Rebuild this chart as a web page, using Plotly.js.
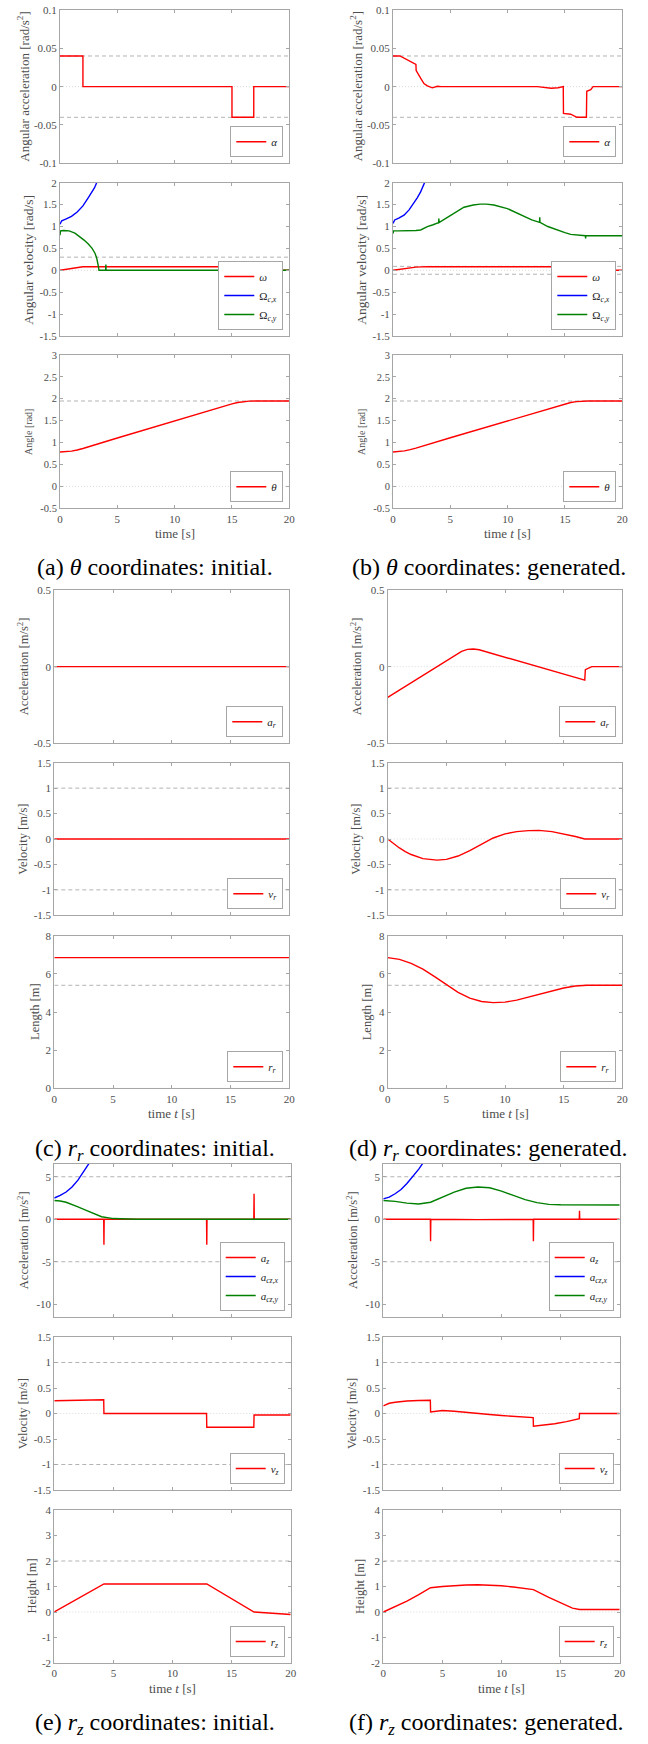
<!DOCTYPE html>
<html><head><meta charset="utf-8">
<script src="https://cdn.plot.ly/plotly-3.0.1.min.js"></script>
<style>html,body{margin:0;padding:0;background:#fff}#chart{width:648px;height:1744px}</style>
</head><body><div id="chart"></div>
<script>
// ---------------- DATA ----------------
const tSpan = [0, 20];
const xTickVals = [0, 5, 10, 15, 20];
const xTickText = ['0', '5', '10', '15', '20'];

// (a)/(b) angular acceleration
const tAlphaInit = [0, 2, 2, 15, 15, 16.9, 16.9, 20];
const alphaInit  = [0.04, 0.04, 0, 0, -0.04, -0.04, 0, 0];
const tAlphaGen  = [0, 0.6, 2.0, 2.02, 2.41, 2.7, 3.0, 3.43, 3.87, 4.2, 12.6, 13.2, 13.8, 14.4, 14.85, 14.87, 15.5, 16.05, 16.87, 16.9, 17.25, 17.45, 20];
const alphaGen   = [0.04, 0.04, 0.029, 0.021, 0.011, 0.004, 0.001, -0.0015, 0.0005, 0, 0, -0.001, -0.002, -0.0015, 0, -0.035, -0.036, -0.04, -0.04, -0.006, -0.004, 0, 0];
const boundsAngAcc = [0.04, -0.04];
const yTickAngAcc = [-0.1, -0.05, 0, 0.05, 0.1];
const yTickAngAccText = ['-0.1', '-0.05', '0', '0.05', '0.1'];

// angular velocity
const tOmegaInit = [0, 2, 15, 16.9, 20];
const omegaInit  = [0, 0.08, 0.08, 0, 0];
const tOcxInit = [0, 0.08, 0.15, 0.5, 1.0, 1.5, 2.0, 2.5, 3.0, 3.2, 3.5];
const ocxInit  = [1.05, 1.1, 1.13, 1.17, 1.23, 1.33, 1.47, 1.67, 1.88, 2.0, 2.2];
const tOcyInit = [0, 0.05, 0.3, 0.8, 1.3, 1.74, 2.1, 2.47, 2.8, 3.05, 3.2, 3.34, 3.4, 3.98, 4.0, 4.02, 20];
const ocyInit  = [0.8, 0.9, 0.91, 0.9, 0.85, 0.77, 0.69, 0.6, 0.5, 0.39, 0.28, 0.1, 0, 0, 0.13, 0, 0];
const tOmegaGen = [0, 0.6, 2, 2.5, 3, 15, 16.9, 20];
const omegaGen  = [0, 0.024, 0.073, 0.078, 0.08, 0.08, 0.003, 0];
const tOcxGen = [0, 0.08, 0.15, 0.5, 0.96, 1.4, 1.83, 2.1, 2.41, 2.76, 3.0];
const ocxGen  = [1.07, 1.12, 1.15, 1.19, 1.26, 1.38, 1.53, 1.65, 1.79, 2.0, 2.15];
const tOcyGen = [0, 0.05, 0.5, 1.0, 1.5, 2.0, 2.41, 3.0, 3.5, 3.98, 4.0, 4.02, 4.5, 5.03, 5.6, 6.19, 7.0, 7.6, 8.14, 8.8, 9.97, 10.7, 11.4, 12.1, 12.78, 12.8, 12.82, 13.5, 14.3, 15.0, 15.5, 16.2, 16.78, 16.8, 16.82, 17.5, 20];
const ocyGen  = [0.84, 0.9, 0.9, 0.9, 0.905, 0.91, 0.92, 0.996, 1.04, 1.09, 1.18, 1.09, 1.17, 1.26, 1.35, 1.44, 1.49, 1.51, 1.51, 1.49, 1.41, 1.32, 1.22, 1.15, 1.094, 1.21, 1.094, 1.0, 0.92, 0.86, 0.82, 0.8, 0.79, 0.73, 0.79, 0.79, 0.79];
const boundsAngVelInit = [0.3];
const boundsAngVelGen = [0.09, -0.09];
const yTickAngVel = [-1.5, -1, -0.5, 0, 0.5, 1, 1.5, 2];
const yTickAngVelText = ['-1.5', '-1', '-0.5', '0', '0.5', '1', '1.5', '2'];

// angle
const tTheta = [0, 0.5, 1, 1.5, 2, 5, 10, 15, 15.5, 16, 16.5, 17, 20];
const thetaInit = [0.785, 0.79, 0.805, 0.83, 0.865, 1.105, 1.5, 1.885, 1.915, 1.935, 1.947, 1.95, 1.95];
const thetaGen  = [0.785, 0.79, 0.81, 0.84, 0.875, 1.11, 1.5, 1.885, 1.915, 1.935, 1.947, 1.95, 1.95];
const boundsAngle = [1.95];
const yTickAngle = [-0.5, 0, 0.5, 1, 1.5, 2, 2.5, 3];
const yTickAngleText = ['-0.5', '0', '0.5', '1', '1.5', '2', '2.5', '3'];

// (c)/(d) r_r
const arInit = [0, 0];
const tArGen = [0, 4.2, 6.3, 6.8, 7.3, 7.8, 10, 12.7, 16.8, 16.85, 17.1, 17.4, 20];
const arGen  = [-0.2, 0, 0.1, 0.113, 0.115, 0.11, 0.062, 0, -0.088, -0.02, -0.012, 0, 0];
const yTickAr = [-0.5, 0, 0.5];
const yTickArText = ['-0.5', '0', '0.5'];

const vrInit = [0, 0];
const tVrGen = [0, 0.5, 1, 1.5, 2, 3, 4.2, 5, 6, 7, 8, 9, 10, 11, 12, 12.9, 14, 15, 16, 16.8, 20];
const vrGen  = [0, -0.094, -0.176, -0.247, -0.305, -0.386, -0.415, -0.4, -0.335, -0.23, -0.1, 0.02, 0.1, 0.145, 0.165, 0.17, 0.145, 0.105, 0.05, 0, 0];
const boundsVel = [1, -1];
const yTickVel = [-1.5, -1, -0.5, 0, 0.5, 1, 1.5];
const yTickVelText = ['-1.5', '-1', '-0.5', '0', '0.5', '1', '1.5'];

const rrInit = [6.85, 6.85];
const tRrGen = [0, 1, 2, 3, 4, 5, 6, 7, 8, 9, 10, 11, 12, 13, 14, 15, 16, 17, 20];
const rrGen  = [6.85, 6.76, 6.55, 6.25, 5.85, 5.42, 5.03, 4.73, 4.55, 4.49, 4.52, 4.62, 4.78, 4.95, 5.12, 5.26, 5.36, 5.4, 5.4];
const boundsLen = [5.4];
const yTickLen = [0, 2, 4, 6, 8];
const yTickLenText = ['0', '2', '4', '6', '8'];

// (e)/(f) r_z
const tAzInit = [0, 4.18, 4.2, 4.22, 12.88, 12.9, 12.92, 16.88, 16.9, 16.92, 20];
const azInit  = [0, 0, -3, 0, 0, -3, 0, 0, 3, 0, 0];
const tAcxInit = [0, 0.5, 1, 1.5, 2, 2.5, 3, 3.5];
const acxInit  = [2.5, 2.8, 3.2, 3.8, 4.6, 5.6, 6.7, 8.0];
const tAcyInit = [0, 0.5, 1, 1.5, 2, 2.5, 3, 3.5, 4, 5, 6, 7, 20];
const acyInit  = [2.2, 2.15, 2.0, 1.75, 1.45, 1.15, 0.85, 0.55, 0.3, 0.08, 0.01, 0, 0];
const tAzGen = [0, 3.98, 4.0, 4.02, 8, 12.68, 12.7, 12.72, 16.58, 16.6, 16.62, 20];
const azGen  = [0, 0, -2.6, 0, -0.05, 0, -2.6, 0, 0, 1.0, 0, 0];
const tAcxGen = [0, 0.5, 1, 1.5, 2, 2.5, 3, 3.5, 4];
const acxGen  = [2.4, 2.6, 3.0, 3.5, 4.2, 5.0, 5.9, 6.9, 8.0];
const tAcyGen = [0, 1, 2, 3, 4, 5, 6, 7, 8, 9, 10, 11, 12, 13, 14, 15, 16, 20];
const acyGen  = [2.2, 2.1, 1.9, 1.8, 2.0, 2.6, 3.2, 3.65, 3.8, 3.7, 3.3, 2.8, 2.3, 1.95, 1.75, 1.7, 1.68, 1.68];
const boundsAz = [5, -5];
const yTickAz = [-10, -5, 0, 5];
const yTickAzText = ['-10', '-5', '0', '5'];

const tVzInit = [0, 4.18, 4.2, 12.88, 12.9, 16.88, 16.9, 20];
const vzInit  = [0.25, 0.27, 0, 0, -0.27, -0.27, -0.03, -0.03];
const tVzGen = [0, 0.5, 1, 2, 3, 3.98, 4.0, 4.5, 5, 6, 7, 8, 9, 10, 11, 12, 12.68, 12.7, 13.5, 14.5, 15.5, 16.3, 16.58, 16.6, 20];
const vzGen  = [0.15, 0.2, 0.22, 0.245, 0.255, 0.26, 0.03, 0.05, 0.06, 0.045, 0.02, 0, -0.02, -0.04, -0.06, -0.075, -0.08, -0.25, -0.23, -0.2, -0.16, -0.12, -0.1, 0, 0];

const tRzInit = [0, 4.2, 12.9, 16.9, 20];
const rzInit  = [0, 1.1, 1.1, 0, -0.1];
const tRzGen = [0, 1, 2, 3, 4, 5, 6, 7, 8, 9, 10, 11, 12, 12.7, 14, 15, 16, 16.6, 20];
const rzGen  = [0, 0.2, 0.43, 0.68, 0.95, 1.0, 1.04, 1.06, 1.07, 1.06, 1.03, 0.98, 0.92, 0.88, 0.57, 0.35, 0.15, 0.1, 0.1];
const boundsHeight = [2];
const yTickH = [-2, -1, 0, 1, 2, 3, 4];
const yTickHText = ['-2', '-1', '0', '1', '2', '3', '4'];

// ---------------- STYLE / LAYOUT ----------------
const W = 648, H = 1744;
const FONT = '"Liberation Serif", "Times New Roman", serif';
const RED = '#ff0000', BLUE = '#0000ff', GREEN = '#008000';
const TXT = '#4d4d4d', BOX = '#a6a6a6';

const panels = [
  {g:[60,289.3,10,163.3], yr:[-0.1,0.1], tv:yTickAngAcc, tt:yTickAngAccText, yl:'Angular acceleration [rad/s<sup>2</sup>]', ylx:23, ylf:13, tf:11, b:boundsAngAcc,
   s:[{x:tAlphaInit,y:alphaInit,c:RED,n:'<i>α</i>'}]},
  {g:[393,622.3,10,163.3], yr:[-0.1,0.1], tv:yTickAngAcc, tt:yTickAngAccText, yl:'Angular acceleration [rad/s<sup>2</sup>]', ylx:355.7, ylf:13, tf:11, b:boundsAngAcc,
   s:[{x:tAlphaGen,y:alphaGen,c:RED,n:'<i>α</i>'}]},
  {g:[60,289.3,182.7,336], yr:[-1.5,2], tv:yTickAngVel, tt:yTickAngVelText, yl:'Angular velocity [rad/s]', ylx:28.3, ylf:13.5, tf:11, b:boundsAngVelInit,
   s:[{x:tOmegaInit,y:omegaInit,c:RED,n:'<i>ω</i>'},{x:tOcxInit,y:ocxInit,c:BLUE,n:'Ω<sub><i>c,x</i></sub>'},{x:tOcyInit,y:ocyInit,c:GREEN,n:'Ω<sub><i>c,y</i></sub>'}]},
  {g:[393,622.3,182.7,336], yr:[-1.5,2], tv:yTickAngVel, tt:yTickAngVelText, yl:'Angular velocity [rad/s]', ylx:361.3, ylf:13.5, tf:11, b:boundsAngVelGen,
   s:[{x:tOmegaGen,y:omegaGen,c:RED,n:'<i>ω</i>'},{x:tOcxGen,y:ocxGen,c:BLUE,n:'Ω<sub><i>c,x</i></sub>'},{x:tOcyGen,y:ocyGen,c:GREEN,n:'Ω<sub><i>c,y</i></sub>'}]},
  {g:[60,289.3,355,508.3], yr:[-0.5,3], tv:yTickAngle, tt:yTickAngleText, yl:'Angle [rad]', ylx:28.3, ylf:10, tf:10.5, b:boundsAngle, xl:'time [s]', xly:533,
   s:[{x:tTheta,y:thetaInit,c:RED,n:'<i>θ</i>'}]},
  {g:[393,622.3,355,508.3], yr:[-0.5,3], tv:yTickAngle, tt:yTickAngleText, yl:'Angle [rad]', ylx:361.3, ylf:10, tf:10.5, b:boundsAngle, xl:'time <i>t</i> [s]', xly:533,
   s:[{x:tTheta,y:thetaGen,c:RED,n:'<i>θ</i>'}]},
  {g:[54.3,289.3,590,743.3], yr:[-0.5,0.5], tv:yTickAr, tt:yTickArText, yl:'Acceleration [m/s<sup>2</sup>]', ylx:22.7, ylf:12.5, tf:11, b:[],
   s:[{x:tSpan,y:arInit,c:RED,n:'<i>a<sub>r</sub></i>'}]},
  {g:[387.7,622.3,590,743.3], yr:[-0.5,0.5], tv:yTickAr, tt:yTickArText, yl:'Acceleration [m/s<sup>2</sup>]', ylx:355.7, ylf:12.5, tf:11, b:[],
   s:[{x:tArGen,y:arGen,c:RED,n:'<i>a<sub>r</sub></i>'}]},
  {g:[54.3,289.3,762.7,915.3], yr:[-1.5,1.5], tv:yTickVel, tt:yTickVelText, yl:'Velocity [m/s]', ylx:22.7, ylf:12.5, tf:11, b:boundsVel,
   s:[{x:tSpan,y:vrInit,c:RED,n:'<i>v<sub>r</sub></i>'}]},
  {g:[387.7,622.3,762.7,915.3], yr:[-1.5,1.5], tv:yTickVel, tt:yTickVelText, yl:'Velocity [m/s]', ylx:355.7, ylf:12.5, tf:11, b:boundsVel,
   s:[{x:tVrGen,y:vrGen,c:RED,n:'<i>v<sub>r</sub></i>'}]},
  {g:[54.3,289.3,935.7,1088.3], yr:[0,8], tv:yTickLen, tt:yTickLenText, yl:'Length [m]', ylx:35, ylf:12.5, tf:11, b:boundsLen, xl:'time <i>t</i> [s]', xly:1113,
   s:[{x:tSpan,y:rrInit,c:RED,n:'<i>r<sub>r</sub></i>'}]},
  {g:[387.7,622.3,935.7,1088.3], yr:[0,8], tv:yTickLen, tt:yTickLenText, yl:'Length [m]', ylx:367.3, ylf:12.5, tf:11, b:boundsLen, xl:'time <i>t</i> [s]', xly:1113,
   s:[{x:tRrGen,y:rrGen,c:RED,n:'<i>r<sub>r</sub></i>'}]},
  {g:[54.3,290.7,1164,1317], yr:[-11.5,6.5], tv:yTickAz, tt:yTickAzText, yl:'Acceleration [m/s<sup>2</sup>]', ylx:22.7, ylf:12.5, tf:11, b:boundsAz,
   s:[{x:tAzInit,y:azInit,c:RED,n:'<i>a<sub>z</sub></i>'},{x:tAcxInit,y:acxInit,c:BLUE,n:'<i>a<sub>cz,x</sub></i>'},{x:tAcyInit,y:acyInit,c:GREEN,n:'<i>a<sub>cz,y</sub></i>'}]},
  {g:[383.3,619.7,1164,1317], yr:[-11.5,6.5], tv:yTickAz, tt:yTickAzText, yl:'Acceleration [m/s<sup>2</sup>]', ylx:351.5, ylf:12.5, tf:11, b:boundsAz,
   s:[{x:tAzGen,y:azGen,c:RED,n:'<i>a<sub>z</sub></i>'},{x:tAcxGen,y:acxGen,c:BLUE,n:'<i>a<sub>cz,x</sub></i>'},{x:tAcyGen,y:acyGen,c:GREEN,n:'<i>a<sub>cz,y</sub></i>'}]},
  {g:[54.3,290.7,1337,1490], yr:[-1.5,1.5], tv:yTickVel, tt:yTickVelText, yl:'Velocity [m/s]', ylx:22.7, ylf:12.5, tf:11, b:boundsVel,
   s:[{x:tVzInit,y:vzInit,c:RED,n:'<i>v<sub>z</sub></i>'}]},
  {g:[383.3,619.7,1337,1490], yr:[-1.5,1.5], tv:yTickVel, tt:yTickVelText, yl:'Velocity [m/s]', ylx:351.5, ylf:12.5, tf:11, b:boundsVel,
   s:[{x:tVzGen,y:vzGen,c:RED,n:'<i>v<sub>z</sub></i>'}]},
  {g:[54.3,290.7,1510,1663], yr:[-2,4], tv:yTickH, tt:yTickHText, yl:'Height [m]', ylx:31, ylf:12.5, tf:11, b:boundsHeight, xl:'time <i>t</i> [s]', xly:1688,
   s:[{x:tRzInit,y:rzInit,c:RED,n:'<i>r<sub>z</sub></i>'}]},
  {g:[383.3,619.7,1510,1663], yr:[-2,4], tv:yTickH, tt:yTickHText, yl:'Height [m]', ylx:359.5, ylf:12.5, tf:11, b:boundsHeight, xl:'time <i>t</i> [s]', xly:1688,
   s:[{x:tRzGen,y:rzGen,c:RED,n:'<i>r<sub>z</sub></i>'}]}
];

const captions = [
  {t:'(a) <i>θ</i> coordinates: initial.', x:155, y:567},
  {t:'(b) <i>θ</i> coordinates: generated.', x:489, y:567},
  {t:'(c) <i>r<sub>r</sub></i> coordinates: initial.', x:155, y:1150},
  {t:'(d) <i>r<sub>r</sub></i> coordinates: generated.', x:488, y:1150},
  {t:'(e) <i>r<sub>z</sub></i> coordinates: initial.', x:155, y:1724},
  {t:'(f) <i>r<sub>z</sub></i> coordinates: generated.', x:486, y:1724}
];

const traces = [];
const layout = {
  width: W, height: H, margin: {l:0, r:0, t:0, b:0},
  paper_bgcolor: '#fff', plot_bgcolor: '#fff',
  font: {family: FONT, color: TXT, size: 11},
  annotations: [], showlegend: true
};

panels.forEach((p, k) => {
  const i = k + 1;
  const sfx = i === 1 ? '' : String(i);
  const xa = 'x' + sfx, ya = 'y' + sfx;
  const lg = 'legend' + sfx;
  const [x0, x1, y0, y1] = p.g;
  const xax = {
    domain: [x0 / W, x1 / W], anchor: ya, range: [0, 20],
    ticks: 'inside', ticklen: 3, tickcolor: BOX,
    showline: true, linecolor: BOX, linewidth: 1, mirror: 'ticks',
    showgrid: false, zeroline: false,
    tickfont: {family: FONT, size: 11, color: TXT}
  };
  if (p.xl) {
    xax.tickmode = 'array'; xax.tickvals = xTickVals; xax.ticktext = xTickText; xax.showticklabels = true;
  } else {
    xax.tickmode = 'linear'; xax.tick0 = xTickVals[0]; xax.dtick = xTickVals[1] - xTickVals[0]; xax.showticklabels = false;
  }
  layout['xaxis' + sfx] = xax;
  layout['yaxis' + sfx] = {
    domain: [1 - y1 / H, 1 - y0 / H], anchor: xa, range: p.yr,
    tickmode: 'array', tickvals: p.tv, ticktext: p.tt,
    ticks: 'inside', ticklen: 3, tickcolor: BOX,
    showline: true, linecolor: BOX, linewidth: 1, mirror: 'ticks',
    showgrid: false, zeroline: false,
    tickfont: {family: FONT, size: p.tf, color: TXT}
  };
  traces.push({x: tSpan, y: [0, 0], xaxis: xa, yaxis: ya, mode: 'lines', showlegend: false, hoverinfo: 'skip',
    line: {color: '#dadada', width: 1, dash: '1px,2px'}});
  p.b.forEach(v => traces.push({x: tSpan, y: [v, v], xaxis: xa, yaxis: ya, mode: 'lines', showlegend: false, hoverinfo: 'skip',
    line: {color: '#b3b3b3', width: 1, dash: '4px,3px'}}));
  p.s.forEach(s => traces.push({x: s.x, y: s.y, xaxis: xa, yaxis: ya, mode: 'lines', name: s.n, legend: lg,
    line: {color: s.c, width: 1.4}}));
  layout[lg] = {
    x: (x1 - 6) / W, y: 1 - (y1 - 6) / H, xanchor: 'right', yanchor: 'bottom',
    bgcolor: '#fff', bordercolor: BOX, borderwidth: 1,
    font: {family: FONT, size: 11, color: '#222'}, itemwidth: 30, tracegroupgap: 0
  };
  layout.annotations.push({x: p.ylx / W, y: 1 - (y0 + y1) / 2 / H, xref: 'paper', yref: 'paper',
    text: p.yl, textangle: -90, showarrow: false, xanchor: 'center', yanchor: 'middle',
    font: {family: FONT, size: p.ylf, color: TXT}});
  if (p.xl) {
    layout.annotations.push({x: (x0 + x1) / 2 / W, y: 1 - p.xly / H, xref: 'paper', yref: 'paper',
      text: p.xl, showarrow: false, xanchor: 'center', yanchor: 'middle',
      font: {family: FONT, size: 13, color: TXT}});
  }
});

captions.forEach(c => layout.annotations.push({x: c.x / W, y: 1 - c.y / H, xref: 'paper', yref: 'paper',
  text: c.t, showarrow: false, xanchor: 'center', yanchor: 'middle',
  font: {family: FONT, size: 24, color: '#000'}}));

Plotly.newPlot('chart', traces, layout, {staticPlot: true, displayModeBar: false});
</script></body></html>
